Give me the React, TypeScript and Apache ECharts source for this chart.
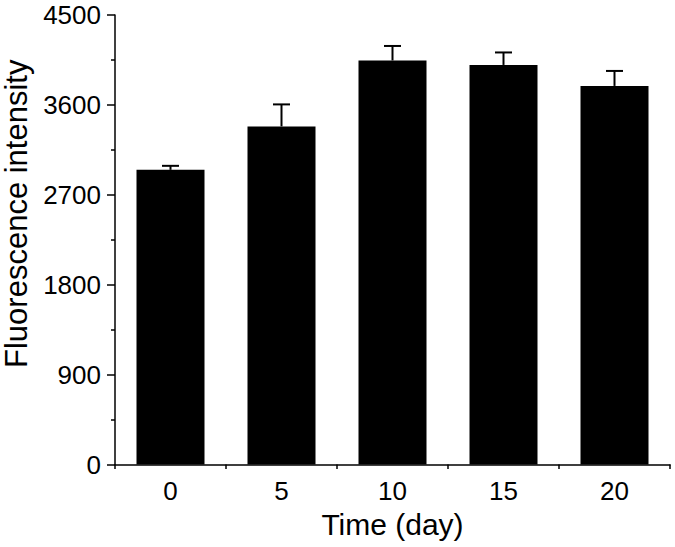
import React, { useEffect, useRef } from "react";
import * as echarts from "echarts";

const categories = ["0", "5", "10", "15", "20"];
const values = [2950, 3385, 4045, 4000, 3790];
const errors = [40, 220, 145, 125, 150];
const yTicks = [0, 900, 1800, 2700, 3600, 4500];

const FONT = "'Liberation Sans', Arial, Helvetica, sans-serif";

export default function App() {
  const ref = useRef<HTMLDivElement>(null);
  useEffect(() => {
    if (!ref.current) return;
    const chart = echarts.init(ref.current, undefined, { renderer: "svg" });
    const errData = values.map((v, i) => [i, v, errors[i]]);
    chart.setOption({
      animation: false,
      backgroundColor: "#ffffff",
      textStyle: { fontFamily: FONT, color: "#000" },
      grid: {
        left: 115,
        right: 5,
        top: 15,
        bottom: 82.5,
        containLabel: false,
        outerBoundsMode: "none",
      },
      xAxis: [
        {
          type: "category",
          data: categories,
          boundaryGap: true,
          position: "bottom",
          name: "Time (day)",
          nameLocation: "middle",
          nameGap: 45,
          nameTextStyle: { fontSize: 30, color: "#000", fontFamily: FONT },
          axisLine: { lineStyle: { color: "#000", width: 1.5 } },
          axisTick: { alignWithLabel: true, length: 8, lineStyle: { color: "#000", width: 1.5 } },
          axisLabel: { fontSize: 26, color: "#000", margin: 13, fontFamily: FONT },
          splitLine: { show: false },
        },
        {
          type: "value",
          min: 0,
          max: 5,
          interval: 1,
          position: "bottom",
          axisLine: { show: false },
          axisTick: { show: true, length: 4.5, lineStyle: { color: "#000", width: 1.5 } },
          axisLabel: { show: false },
          splitLine: { show: false },
        },
      ],
      yAxis: {
        type: "value",
        min: 0,
        max: 4500,
        interval: 900,
        name: "Fluorescence intensity",
        nameLocation: "middle",
        nameGap: 78,
        nameTextStyle: {
          fontSize: 31,
          lineHeight: 28,
          color: "#000",
          fontFamily: FONT,
          padding: [0, 0, 0, 52],
        },
        axisLine: { show: true, lineStyle: { color: "#000", width: 1.5 } },
        axisTick: { show: true, length: 8, lineStyle: { color: "#000", width: 1.5 } },
        minorTick: { show: true, splitNumber: 2, length: 4, lineStyle: { color: "#000", width: 1.5 } },
        axisLabel: {
          fontSize: 26,
          color: "#000",
          margin: 14,
          fontFamily: FONT,
          formatter: (v: number) => (yTicks.includes(v) ? String(v) : ""),
        },
        splitLine: { show: false },
      },
      series: [
        {
          type: "bar",
          data: values,
          barWidth: 68,
          itemStyle: { color: "#000" },
          xAxisIndex: 0,
        },
        {
          type: "custom",
          xAxisIndex: 0,
          data: errData,
          encode: { x: 0, y: 1 },
          z: 3,
          renderItem: (params: any, api: any) => {
            const i = api.value(0);
            const v = api.value(1);
            const e = api.value(2);
            const top = api.coord([i, v + e]);
            const base = api.coord([i, v]);
            const half = 8.5;
            const style = { stroke: "#000", lineWidth: 2 };
            return {
              type: "group",
              children: [
                { type: "line", shape: { x1: base[0], y1: base[1], x2: top[0], y2: top[1] }, style },
                { type: "line", shape: { x1: top[0] - half, y1: top[1], x2: top[0] + half, y2: top[1] }, style },
              ],
            };
          },
        },
      ],
    });
    return () => chart.dispose();
  }, []);
  return (
    <div
      ref={ref}
      style={{ position: "fixed", left: 0, top: 0, width: 675, height: 547, background: "#fff" }}
    />
  );
}
